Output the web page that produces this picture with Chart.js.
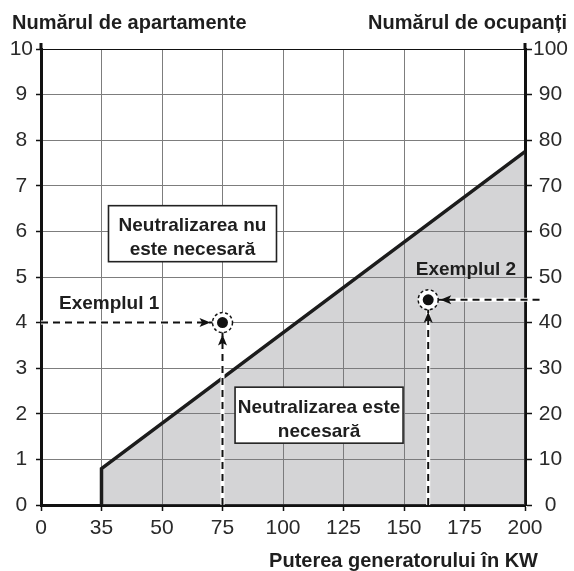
<!DOCTYPE html>
<html>
<head>
<meta charset="utf-8">
<script src="https://cdn.jsdelivr.net/npm/chart.js@4.4.1/dist/chart.umd.min.js"></script>
<style>
html,body{margin:0;padding:0;background:#fff;}
#wrap{width:574px;height:571px;}
</style>
</head>
<body>
<div id="wrap"><canvas id="c" width="574" height="571"></canvas></div>
<script>
// ---- data ----
const kwTicks = [0, 35, 50, 75, 100, 125, 150, 175, 200];
const apartmentTicks = [0, 1, 2, 3, 4, 5, 6, 7, 8, 9, 10];
const occupantTicks = [0, 10, 20, 30, 40, 50, 60, 70, 80, 90, 100];
const thresholdKw = [35, 35, 200];
const thresholdApartments = [0, 0.8, 7.75];
const exampleNames = ['Exemplul 1', 'Exemplul 2'];
const exampleKw = [75, 160];
const exampleApartments = [4, 4.5];
const guideStartKw = [0, 206];
const regionTexts = [['Neutralizarea nu', 'este necesară'], ['Neutralizarea este', 'necesară']];

// ---- annotation layout (kW / apartments anchors) ----
const regionAnchorKw = [62.6, 114.9];
const regionAnchorApt = [5.95, 1.97];
const exampleLabelKw = [36.9, 175.6];
const exampleLabelApt = [4.30, 5.05];

const FONT = '"Liberation Sans", Arial, Helvetica, sans-serif';

// equally spaced kW ticks -> axis position index
function kwToPos(kw) {
  const n = kwTicks.length;
  if (kw <= kwTicks[0]) return 0;
  for (let i = 0; i < n - 1; i++) {
    if (kw <= kwTicks[i + 1]) return i + (kw - kwTicks[i]) / (kwTicks[i + 1] - kwTicks[i]);
  }
  return (n - 1) + (kw - kwTicks[n - 1]) / (kwTicks[n - 1] - kwTicks[n - 2]);
}

const datasets = [];
datasets.push({
  label: 'threshold',
  data: thresholdKw.map((k, i) => ({x: kwToPos(k), y: thresholdApartments[i]})),
  borderColor: '#1c1c1c', borderWidth: 3.5, borderJoinStyle: 'miter', borderCapStyle: 'butt',
  backgroundColor: 'rgba(120,122,128,0.32)', fill: 'origin',
  pointRadius: 0, tension: 0, order: 10
});
exampleKw.forEach((k, i) => {
  const px = kwToPos(k), py = exampleApartments[i];
  const vertical = [{x: px, y: 0}, {x: px, y: py}];
  const horizontal = [{x: kwToPos(guideStartKw[i]), y: py}, {x: px, y: py}];
  [vertical, horizontal].forEach(d => {
    datasets.push({data: d, borderColor: '#ffffff', borderWidth: 4, pointRadius: 0, fill: false, clip: false, order: 8});
    datasets.push({data: d, borderColor: '#111111', borderWidth: 2, borderDash: [7, 5], borderCapStyle: 'butt', pointRadius: 0, fill: false, clip: false, order: 7});
  });
});
datasets.push({
  label: 'halo', data: exampleKw.map((k, i) => ({x: kwToPos(k), y: exampleApartments[i]})),
  showLine: false, pointRadius: 10, pointBackgroundColor: '#ffffff', pointBorderWidth: 0, pointHoverRadius: 10, order: 3
});
datasets.push({
  label: 'examples', data: exampleKw.map((k, i) => ({x: kwToPos(k), y: exampleApartments[i]})),
  showLine: false, pointRadius: 5.5, pointBackgroundColor: '#111111', pointBorderWidth: 0, pointHoverRadius: 5.5, order: 2
});

function arrowHead(ctx, tx, ty, dx, dy) {
  const len = 11, half = 4.5;
  const bx = tx - dx * len, by = ty - dy * len;
  const nx = -dy, ny = dx;
  ctx.beginPath();
  ctx.moveTo(tx, ty);
  ctx.lineTo(bx + nx * half, by + ny * half);
  ctx.lineTo(bx + dx * 2.5, by + dy * 2.5);
  ctx.lineTo(bx - nx * half, by - ny * half);
  ctx.closePath();
  ctx.fillStyle = '#111';
  ctx.fill();
}

const decor = {
  id: 'decor',
  afterDatasetsDraw(chart) {
    const ctx = chart.ctx, xs = chart.scales.x, ys = chart.scales.y;
    ctx.save();
    exampleKw.forEach((k, i) => {
      const px = xs.getPixelForValue(kwToPos(k)), py = ys.getPixelForValue(exampleApartments[i]);
      ctx.setLineDash([3, 2.5]);
      ctx.lineWidth = 1.5;
      ctx.strokeStyle = '#111';
      ctx.beginPath(); ctx.arc(px, py, 10, 0, Math.PI * 2); ctx.stroke();
      ctx.setLineDash([]);
      const sx = xs.getPixelForValue(kwToPos(guideStartKw[i]));
      const dir = sx < px ? 1 : -1;
      arrowHead(ctx, px - dir * 12, py, dir, 0);
      arrowHead(ctx, px, py + 12, 0, -1);
    });
    ctx.textAlign = 'center';
    ctx.textBaseline = 'alphabetic';
    regionTexts.forEach((lines, i) => {
      const cx = xs.getPixelForValue(kwToPos(regionAnchorKw[i]));
      const cy = ys.getPixelForValue(regionAnchorApt[i]);
      const w = 168, h = 56;
      ctx.fillStyle = '#fff';
      ctx.fillRect(cx - w / 2, cy - h / 2, w, h);
      ctx.lineWidth = 1.6;
      ctx.strokeStyle = '#222';
      ctx.strokeRect(cx - w / 2, cy - h / 2, w, h);
      ctx.fillStyle = '#1e1e1e';
      ctx.font = 'bold 19px ' + FONT;
      ctx.fillText(lines[0], cx, cy - 2.5);
      ctx.fillText(lines[1], cx, cy + 21.5);
    });
    exampleNames.forEach((name, i) => {
      const cx = xs.getPixelForValue(kwToPos(exampleLabelKw[i]));
      const cy = ys.getPixelForValue(exampleLabelApt[i]);
      ctx.fillStyle = '#1e1e1e';
      ctx.font = 'bold 19px ' + FONT;
      ctx.fillText(name, cx, cy);
    });
    ctx.restore();
  },
  afterDraw(chart) {
    const ctx = chart.ctx, a = chart.chartArea;
    ctx.save();
    ctx.strokeStyle = '#111';
    ctx.lineWidth = 3;
    ctx.beginPath();
    ctx.moveTo(a.left, a.top + 1); ctx.lineTo(a.left, a.top - 6);
    ctx.moveTo(a.right, a.top + 1); ctx.lineTo(a.right, a.top - 6);
    ctx.stroke();
    ctx.fillStyle = '#1e1e1e';
    ctx.font = 'bold 20px ' + FONT;
    ctx.textBaseline = 'alphabetic';
    ctx.textAlign = 'left';
    ctx.fillText('Numărul de apartamente', 12, 29);
    ctx.textAlign = 'right';
    ctx.fillText('Numărul de ocupanți', 567, 29);
    ctx.fillText('Puterea generatorului în KW', 538, 567);
    ctx.restore();
  }
};

new Chart(document.getElementById('c'), {
  type: 'line',
  data: {datasets},
  options: {
    responsive: false,
    devicePixelRatio: 1,
    animation: false,
    events: [],
    layout: {padding: {top: 49, left: 0, right: 0, bottom: 0}},
    plugins: {legend: {display: false}, tooltip: {enabled: false}},
    scales: {
      x: {
        type: 'linear', min: 0, max: kwTicks.length - 1,
        afterBuildTicks: s => { s.ticks = kwTicks.map((k, i) => ({value: i})); },
        afterFit: s => { s.height = 66; },
        ticks: {
          callback: (v) => String(kwTicks[v]),
          font: {family: FONT, size: 21}, color: '#2a2a2a', padding: 5, maxRotation: 0, autoSkip: false
        },
        grid: {color: '#7d7d7d', lineWidth: 1, tickColor: '#111', tickLength: 6, tickWidth: 1.5},
        border: {color: '#111', width: 3}
      },
      y: {
        type: 'linear', position: 'left', min: 0, max: 10,
        afterBuildTicks: s => { s.ticks = apartmentTicks.map(v => ({value: v})); },
        afterFit: s => { s.width = 41; },
        ticks: {font: {family: FONT, size: 21}, color: '#2a2a2a', padding: 3, crossAlign: 'center'},
        grid: {
          color: c => (c.tick && c.tick.value === 10) ? '#111' : '#7d7d7d',
          lineWidth: 1, tickColor: '#111', tickLength: 5, tickWidth: 1.5
        },
        border: {color: '#111', width: 3}
      },
      y1: {
        type: 'linear', position: 'right', min: 0, max: 100,
        afterBuildTicks: s => { s.ticks = occupantTicks.map(v => ({value: v})); },
        afterFit: s => { s.width = 49; },
        ticks: {font: {family: FONT, size: 21}, color: '#2a2a2a', padding: 1, crossAlign: 'center'},
        grid: {drawOnChartArea: false, tickColor: '#111', tickLength: 7, tickWidth: 1.5},
        border: {color: '#111', width: 3}
      }
    }
  },
  plugins: [decor]
});
</script>
</body>
</html>
